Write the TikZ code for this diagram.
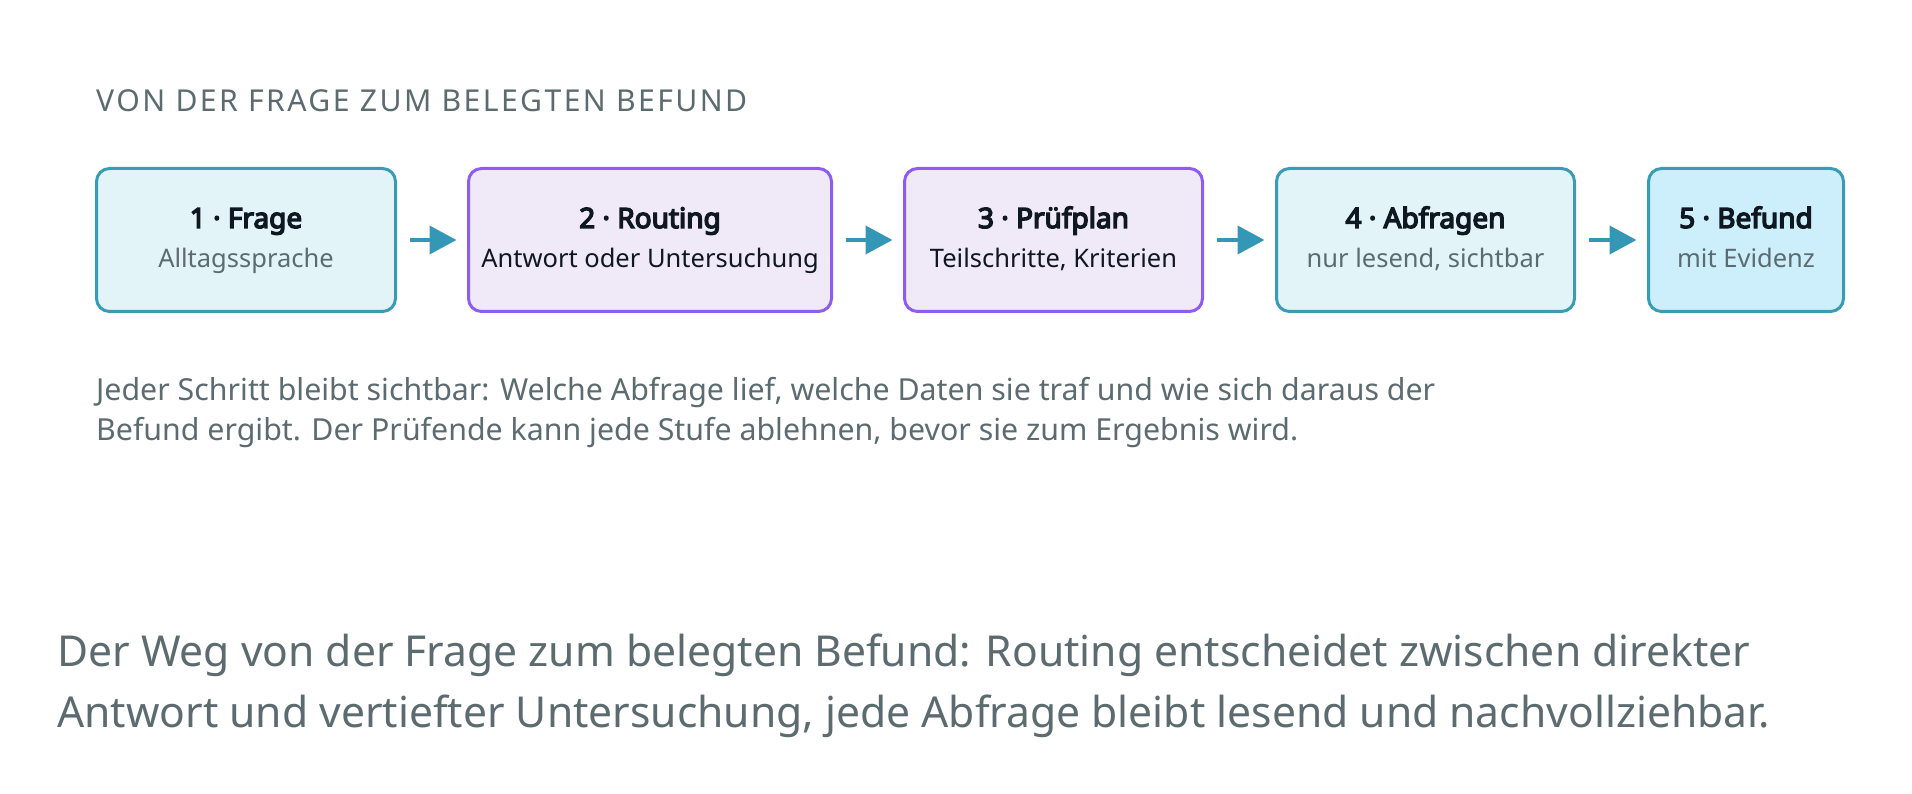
\documentclass[tikz,border=0pt]{standalone}
\usepackage{fontspec}
\setmainfont{Noto Sans}[AutoFakeBold=5]
\usetikzlibrary{arrows.meta}
\definecolor{cyanfill}{HTML}{E3F4F8}
\definecolor{cyanline}{HTML}{3A9BB5}
\definecolor{bluefill}{HTML}{CDEFFC}
\definecolor{purfill}{HTML}{F0E9F8}
\definecolor{purline}{HTML}{8E5CF0}
\definecolor{arrowc}{HTML}{3497B5}
\definecolor{darktext}{HTML}{0F1720}
\definecolor{greytext}{HTML}{5C6B70}
\newlength\fitlen
\newcommand\fitsize[3]{\setbox0=\hbox{\fontsize{10pt}{12pt}\selectfont #3}\global\fitlen=\wd0\relax\pgfmathsetmacro\fittmp{#2/\fitlen*10}\global\let#1\fittmp}
\begin{document}
\fitsize\headfs{651}{\addfontfeatures{LetterSpace=8}VON DER FRAGE ZUM BELEGTEN BEFUND}%
\fitsize\parfs{1339}{Jeder Schritt bleibt sichtbar: Welche Abfrage lief, welche Daten sie traf und wie sich daraus der}%
\fitsize\capfs{1693}{Der Weg von der Frage zum belegten Befund: Routing entscheidet zwischen direkter}%
\begin{tikzpicture}[x=1pt,y=-1pt,
  box/.style={draw, rounded corners=13pt, line width=3pt, minimum height=143pt, inner sep=0pt},
  cbox/.style={box, draw=cyanline, fill=cyanfill},
  pbox/.style={box, draw=purline, fill=purfill},
  fbox/.style={box, draw=cyanline, fill=bluefill},
  ttl/.style={anchor=base, text=darktext, font=\fontsize{28}{32}\selectfont\bfseries, inner sep=0pt},
  sub/.style={anchor=base, text=greytext, font=\fontsize{25.5}{29}\selectfont, inner sep=0pt},
  subd/.style={sub, text=darktext},
  arr/.style={draw=arrowc, line width=4pt, -{Triangle[length=27pt,width=28pt]}, shorten <=12.5pt, shorten >=10.5pt},
  txt/.style={anchor=base west, inner sep=0pt, text=greytext},
]
\useasboundingbox (0,0) rectangle (1912,794);

\node[txt, font=\fontsize{\headfs pt}{\headfs pt}\selectfont\addfontfeatures{LetterSpace=8}] (head) at (96,112) {VON DER FRAGE ZUM BELEGTEN BEFUND};

\node[cbox, minimum width=299pt] (b1) at (246,240) {};
\node[pbox, minimum width=363pt] (b2) at (650,240) {};
\node[pbox, minimum width=298pt] (b3) at (1053.5,240) {};
\node[cbox, minimum width=298pt] (b4) at (1425.5,240) {};
\node[fbox, minimum width=195pt] (b5) at (1746,240) {};

\node[ttl] (t1) at (246,228) {1 · Frage};
\node[sub] (s1) at (246,268) {Alltagssprache};
\node[ttl] (t2) at (650,228) {2 · Routing};
\node[subd] (s2) at (650,268) {Antwort oder Untersuchung};
\node[ttl] (t3) at (1053.5,228) {3 · Prüfplan};
\node[subd] (s3) at (1053.5,268) {Teilschritte, Kriterien};
\node[ttl] (t4) at (1425.5,228) {4 · Abfragen};
\node[sub] (s4) at (1425.5,268) {nur lesend, sichtbar};
\node[ttl] (t5) at (1746,228) {5 · Befund};
\node[sub] (s5) at (1746,268) {mit Evidenz};

\draw[arr] (b1) -- (b2);
\draw[arr] (b2) -- (b3);
\draw[arr] (b3) -- (b4);
\draw[arr] (b4) -- (b5);

\node[txt, font=\fontsize{\parfs pt}{\parfs pt}\selectfont] (p1) at (96,400) {Jeder Schritt bleibt sichtbar: Welche Abfrage lief, welche Daten sie traf und wie sich daraus der};
\node[txt, font=\fontsize{\parfs pt}{\parfs pt}\selectfont] (p2) at (96,440) {Befund ergibt. Der Prüfende kann jede Stufe ablehnen, bevor sie zum Ergebnis wird.};

\node[txt, font=\fontsize{\capfs pt}{\capfs pt}\selectfont] (c1) at (57,666) {Der Weg von der Frage zum belegten Befund: Routing entscheidet zwischen direkter};
\node[txt, font=\fontsize{\capfs pt}{\capfs pt}\selectfont] (c2) at (57,727) {Antwort und vertiefter Untersuchung, jede Abfrage bleibt lesend und nachvollziehbar.};
\end{tikzpicture}
\end{document}
